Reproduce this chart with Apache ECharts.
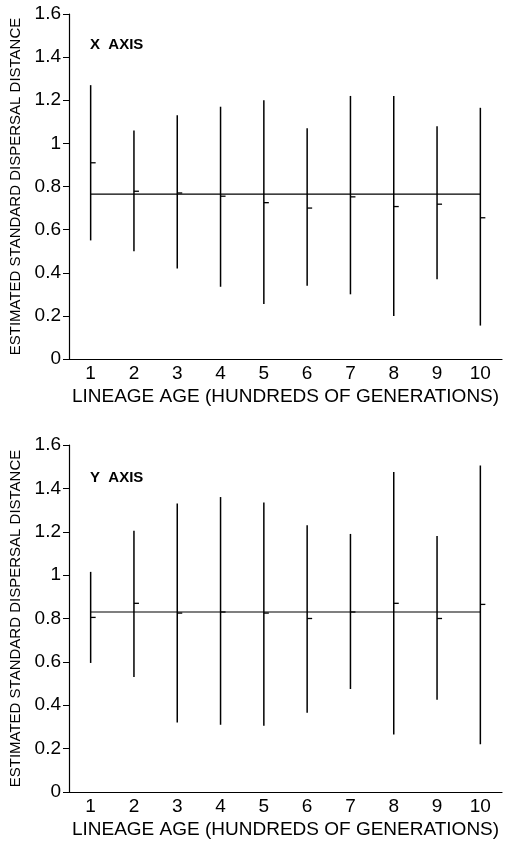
<!DOCTYPE html>
<html>
<head>
<meta charset="utf-8">
<script src="https://cdn.jsdelivr.net/npm/echarts@6/dist/echarts.min.js"></script>
<style>
  html, body { margin: 0; padding: 0; background: #fff; }
  #chart { width: 508px; height: 845px; }
</style>
</head>
<body>
<div id="chart"></div>
<script>
const categories = ['1', '2', '3', '4', '5', '6', '7', '8', '9', '10']

// X axis panel
const xHigh = [1.27, 1.06, 1.13, 1.17, 1.2, 1.07, 1.22, 1.22, 1.08, 1.165]
const xLow = [0.55, 0.5, 0.42, 0.335, 0.255, 0.34, 0.3, 0.2, 0.37, 0.155]
const xEst = [0.91, 0.778, 0.77, 0.755, 0.725, 0.7, 0.752, 0.707, 0.718, 0.655]
const xMean = 0.765

// Y axis panel
const yHigh = [1.015, 1.205, 1.33, 1.36, 1.335, 1.23, 1.19, 1.475, 1.18, 1.505]
const yLow = [0.595, 0.53, 0.32, 0.31, 0.305, 0.365, 0.475, 0.265, 0.425, 0.22]
const yEst = [0.805, 0.87, 0.825, 0.83, 0.825, 0.8, 0.83, 0.87, 0.8, 0.865]
const yMean = 0.83

const ink = '#000'
const font = '"Liberation Sans", Arial, sans-serif'

const chart = echarts.init(document.getElementById('chart'))

const barData = (low, high, est) => categories.map((c, i) => [i, low[i], high[i], est[i]])

const renderBar = (params, api) => {
  const top = api.coord([api.value(0), api.value(2)])
  const bot = api.coord([api.value(0), api.value(1)])
  const est = api.coord([api.value(0), api.value(3)])
  return {
    type: 'group',
    children: [
      { type: 'line', shape: { x1: top[0], y1: top[1], x2: bot[0], y2: bot[1] }, style: { stroke: ink, lineWidth: 1.5 } },
      { type: 'line', shape: { x1: est[0], y1: est[1], x2: est[0] + 5, y2: est[1] }, style: { stroke: ink, lineWidth: 1.3 } },
    ],
  }
}

const xAxisFor = (gridIndex) => ({
  type: 'category',
  gridIndex,
  data: categories,
  boundaryGap: true,
  name: 'LINEAGE AGE (HUNDREDS OF GENERATIONS)',
  nameLocation: 'middle',
  nameGap: 28,
  nameTextStyle: { color: ink, fontSize: 19, fontFamily: font },
  axisLine: { lineStyle: { color: ink, width: 1.2 } },
  axisTick: { alignWithLabel: true, length: 5, lineStyle: { color: ink } },
  axisLabel: { color: ink, fontSize: 19, fontFamily: font, margin: 5 },
  splitLine: { show: false },
})

const yAxisFor = (gridIndex) => ({
  type: 'value',
  gridIndex,
  min: 0,
  max: 1.6,
  interval: 0.2,
  name: 'ESTIMATED STANDARD DISPERSAL DISTANCE',
  nameLocation: 'middle',
  nameGap: 46,
  nameTextStyle: { color: ink, fontSize: 15, fontFamily: font },
  axisLine: { show: true, lineStyle: { color: ink, width: 1.2 } },
  axisTick: { show: true, length: 6, lineStyle: { color: ink } },
  axisLabel: { color: ink, fontSize: 19, fontFamily: font, margin: 8 },
  splitLine: { show: false },
})

const option = {
  backgroundColor: '#fff',
  animation: false,
  title: [
    { text: 'X  AXIS', left: 85, top: 32, textStyle: { color: ink, fontSize: 15, fontWeight: 'bold', fontFamily: font } },
    { text: 'Y  AXIS', left: 85, top: 465, textStyle: { color: ink, fontSize: 15, fontWeight: 'bold', fontFamily: font } },
  ],
  grid: [
    { left: 68, right: 6, top: 14, height: 345 },
    { left: 68, right: 6, top: 445, height: 347 },
  ],
  xAxis: [xAxisFor(0), xAxisFor(1)],
  yAxis: [yAxisFor(0), yAxisFor(1)],
  series: [
    {
      type: 'line',
      xAxisIndex: 0,
      yAxisIndex: 0,
      data: categories.map(() => xMean),
      symbol: 'none',
      lineStyle: { color: ink, width: 1.2 },
      silent: true,
    },
    {
      type: 'custom',
      xAxisIndex: 0,
      yAxisIndex: 0,
      data: barData(xLow, xHigh, xEst),
      encode: { x: 0, y: [1, 2, 3] },
      renderItem: renderBar,
    },
    {
      type: 'line',
      xAxisIndex: 1,
      yAxisIndex: 1,
      data: categories.map(() => yMean),
      symbol: 'none',
      lineStyle: { color: ink, width: 1.2 },
      silent: true,
    },
    {
      type: 'custom',
      xAxisIndex: 1,
      yAxisIndex: 1,
      data: barData(yLow, yHigh, yEst),
      encode: { x: 0, y: [1, 2, 3] },
      renderItem: renderBar,
    },
  ],
}

chart.setOption(option)
</script>
</body>
</html>
